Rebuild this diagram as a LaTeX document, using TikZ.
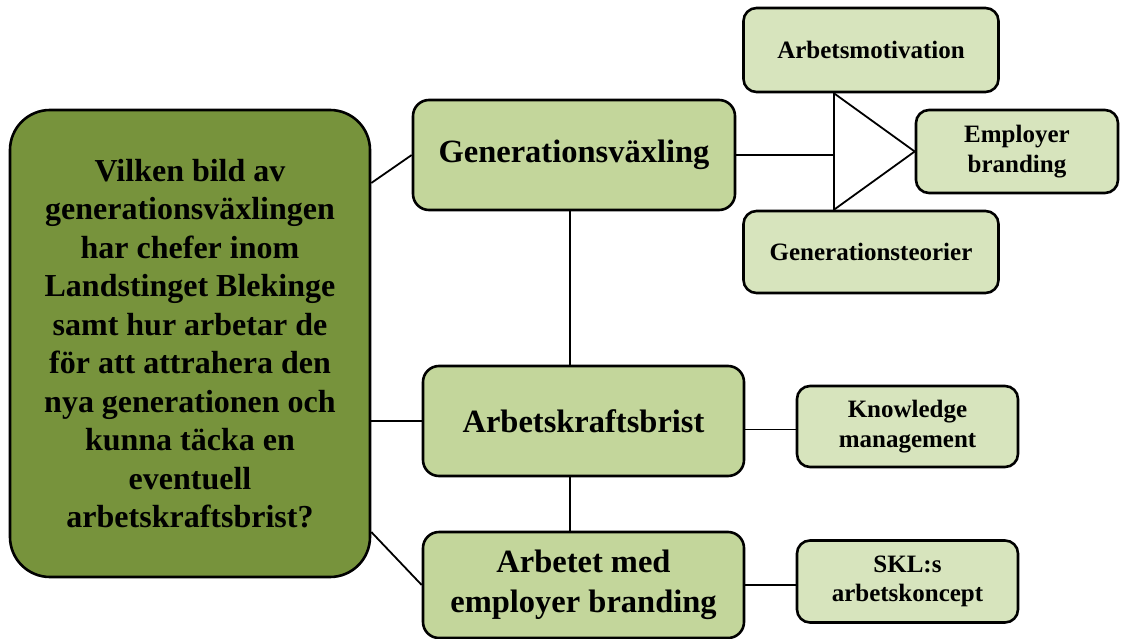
\documentclass[tikz,border=0pt]{standalone}
\usepackage{fontspec}
\setmainfont{Liberation Serif}
\definecolor{olive}{HTML}{77933C}
\definecolor{midgreen}{HTML}{C3D69B}
\definecolor{lightgreen}{HTML}{D7E4BD}
\tikzset{
  box/.style={draw=black, line width=2.6pt, align=center, inner sep=0pt, font=\bfseries},
  mainbox/.style={box, fill=olive, rounded corners=40pt, minimum width=360pt, minimum height=467pt, font=\bfseries\fontsize{32}{38.5}\selectfont},
  midbox/.style={box, fill=midgreen, rounded corners=16pt, minimum width=321pt, minimum height=108pt, font=\bfseries\fontsize{32.5}{40}\selectfont},
  smallbox/.style={box, fill=lightgreen, rounded corners=13pt, font=\bfseries\fontsize{25}{29.5}\selectfont},
  conn/.style={draw=black, line width=1.8pt}
}
\begin{document}
\begin{tikzpicture}[x=1pt,y=-1pt]
\useasboundingbox (0,0) rectangle (1123,639);
\node[mainbox] (main) at (190,343.5) {Vilken bild av\\generationsväxlingen\\har chefer inom\\Landstinget Blekinge\\samt hur arbetar de\\för att attrahera den\\nya generationen och\\kunna täcka en\\eventuell\\arbetskraftsbrist?};
\node[midbox, minimum width=322pt, minimum height=110pt] (gen) at (574,155) {Generationsväxling};
\node[midbox, minimum height=110pt] (ark) at (583.5,421) {Arbetskraftsbrist};
\node[midbox, minimum height=106pt] (arb) at (583.5,585) {Arbetet med\\employer branding};
\node[smallbox, minimum width=221pt, minimum height=81pt] (know) at (907.5,426.5) {Knowledge\\management};
\node[smallbox, minimum width=221pt, minimum height=82pt] (skl) at (907.5,581.5) {SKL:s\\arbetskoncept};
\node[smallbox, minimum width=255pt, minimum height=84pt] (mot) at (871,50) {Arbetsmotivation};
\node[smallbox, minimum width=202pt, minimum height=83pt] (emp) at (1017,151.5) {Employer\\branding};
\node[smallbox, minimum width=255pt, minimum height=82pt] (teo) at (871,252) {Generationsteorier};
\coordinate (j) at ([xshift=-37pt]mot.south |- gen.east);
% connectors
\draw[conn] ([yshift=160.5pt]main.east) -- (gen.west);
\draw[conn] (main.east |- ark.west) -- (ark.west);
\draw[conn] ([yshift=-188.5pt]main.east) -- (arb.west);
\draw[conn] ([xshift=-4pt]gen.south) -- ([xshift=-4pt]gen.south |- ark.north);
\draw[conn] ([xshift=-13.5pt]ark.south) -- ([xshift=-13.5pt]ark.south |- arb.north);
\draw[conn] ([yshift=-3pt]know.west) -- ([yshift=-3pt]know.west -| ark.east);
\draw[conn] (arb.east) -- (arb.east -| skl.west);
\draw[conn] (gen.east) -- (j);
\draw[conn] ([xshift=-37pt]mot.south) -- ([xshift=-37pt]teo.north);
\draw[conn] ([xshift=-37pt]mot.south) -- (emp.west);
\draw[conn] ([xshift=-37pt]teo.north) -- (emp.west);
\end{tikzpicture}
\end{document}
